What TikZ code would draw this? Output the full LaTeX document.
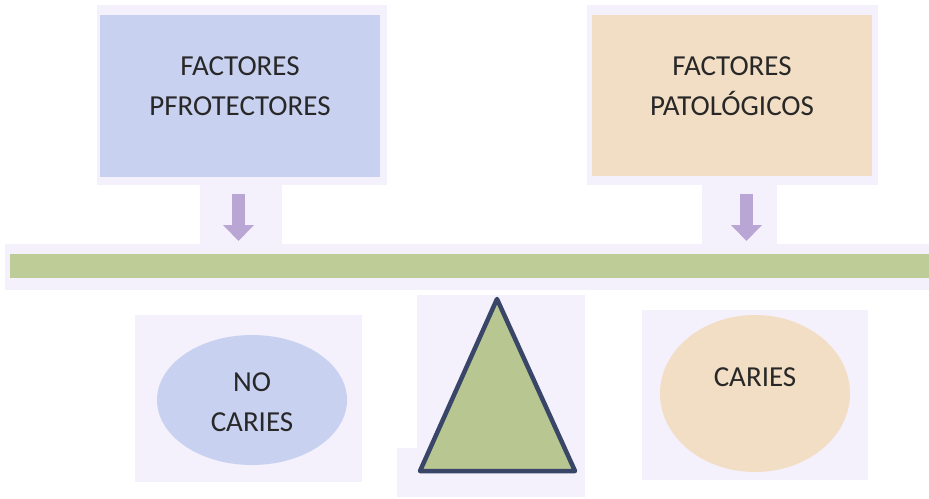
\documentclass[tikz,border=0pt]{standalone}
\usepackage{fontspec}
\setmainfont{Carlito}
\usetikzlibrary{arrows.meta,shapes.geometric}
\definecolor{pad}{RGB}{244,241,252}
\definecolor{bluebox}{RGB}{201,209,240}
\definecolor{tanbox}{RGB}{242,222,196}
\definecolor{barg}{RGB}{190,205,152}
\definecolor{arrowc}{RGB}{186,166,212}
\definecolor{navy}{RGB}{58,70,104}
\definecolor{trig}{RGB}{184,198,146}
\definecolor{txt}{RGB}{40,40,40}
\tikzset{
  padbox/.style={fill=pad,draw=none,inner sep=0pt},
  shapebox/.style={draw=none,inner sep=0pt},
  label text/.style={inner sep=0pt,align=center,text=txt,font=\fontsize{29}{40}\selectfont},
  blockarrow/.style={draw=arrowc,line width=13pt,-{Triangle[width=30pt,length=16pt]}},
}
\begin{document}
\begin{tikzpicture}[x=1pt,y=-1pt]
\useasboundingbox (0,0) rectangle (929,498);
\fill[white] (0,0) rectangle (929,498);
% top pads
\node[padbox,minimum width=290pt,minimum height=180pt] (lpad) at (242,95) {};
\node[padbox,minimum width=291pt,minimum height=180pt] (rpad) at (732.5,95) {};
\node[padbox,minimum width=82pt,minimum height=70pt] (lapad) at (241,212) {};
\node[padbox,minimum width=75pt,minimum height=70pt] (rapad) at (739.5,212) {};
% top boxes
\node[shapebox,fill=bluebox,minimum width=280pt,minimum height=162pt] (prot) at (240,96) {};
\node[shapebox,fill=tanbox,minimum width=280pt,minimum height=161pt] (pato) at (732,95.5) {};
\node[label text] (prottext) at (240,86) {FACTORES\\PFROTECTORES};
\node[label text] (patotext) at (732,86) {FACTORES\\PATOLÓGICOS};
% bar
\node[padbox,minimum width=924pt,minimum height=46pt] (barpad) at (467,267) {};
\node[shapebox,fill=barg,minimum width=919pt,minimum height=24pt] (bar) at (469.5,266) {};
% arrows
\coordinate (la) at (238.5,194);
\coordinate (laend) at (238.5,241);
\coordinate (ra) at (746.5,194);
\coordinate (raend) at (746.5,241);
\draw[blockarrow] (la) -- (laend);
\draw[blockarrow] (ra) -- (raend);
% bottom pads
\node[padbox,minimum width=227pt,minimum height=167pt] (ncpad) at (248.5,398.5) {};
\node[padbox,minimum width=226pt,minimum height=170pt] (cpad) at (755,395) {};
\node[padbox,minimum width=168pt,minimum height=202pt] (tpad) at (501,396) {};
\fill[pad] (397,448) rectangle (420,497);
% ovals
\node[shapebox,ellipse,fill=bluebox,minimum width=190pt,minimum height=130pt] (nocaries) at (252,400) {};
\node[shapebox,ellipse,fill=tanbox,minimum width=190pt,minimum height=157pt] (caries) at (755,393.5) {};
\node[label text] (nctext) at (252,402) {NO\\CARIES};
\node[label text] (ctext) at (755,377) {CARIES};
% triangle
\coordinate (apex) at (497,299);
\coordinate (bl) at (420,471);
\coordinate (br) at (575,471);
\draw[navy,fill=trig,line width=4.5pt,line join=round] (apex) -- (bl) -- (br) -- cycle;
\end{tikzpicture}
\end{document}
